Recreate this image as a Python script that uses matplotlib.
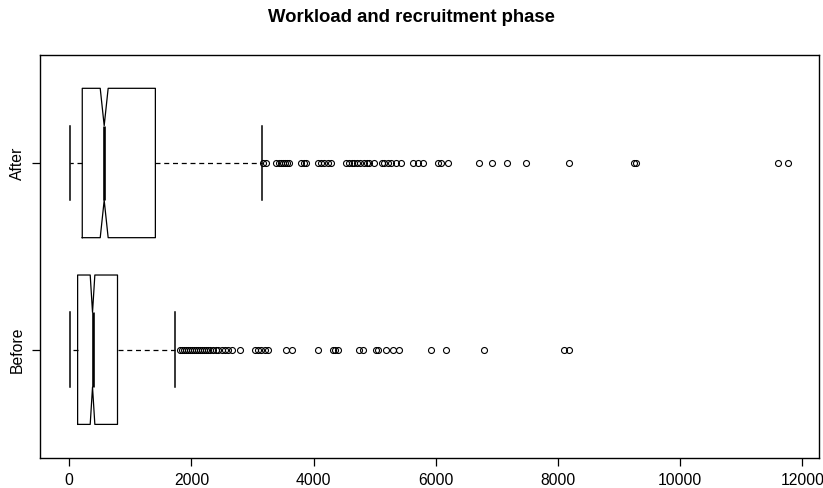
import matplotlib
matplotlib.use("Agg")
import matplotlib.pyplot as plt

plt.rcParams['font.family'] = ['Liberation Sans', 'DejaVu Sans']

# ---- data ----
groups = ["Before", "After"]
q1 = [136, 212]
median = [380, 571]
q3 = [789, 1409]
whisk_lo = [5, 5]
whisk_hi = [1736, 3162]
notch_lo = [342, 506]
notch_hi = [418, 636]

fliers_before = [1812, 1845, 1878, 1910, 1948, 1980, 2013, 2045, 2073, 2105, 2139,
                 2170, 2209, 2240, 2274, 2310, 2356, 2400, 2438, 2493, 2547, 2601,
                 2656, 2792, 3037, 3091, 3146, 3200, 3254, 3554, 3646, 4071, 4316,
                 4354, 4397, 4751, 4805, 5023, 5050, 5186, 5295, 5404, 5922, 6160,
                 6792, 8098, 8180]
fliers_after = [3173, 3227, 3390, 3430, 3461, 3500, 3527, 3560, 3592, 3799, 3837,
                3869, 4071, 4125, 4163, 4234, 4289, 4533, 4577, 4626, 4669, 4713,
                4767, 4822, 4871, 4914, 4996, 5121, 5159, 5213, 5268, 5350, 5431,
                5622, 5714, 5785, 6030, 6085, 6193, 6710, 6928, 7160, 7485, 8180,
                9241, 9279, 11608, 11771]
fliers = [fliers_before, fliers_after]

title = "Workload and recruitment phase"
xticks = [0, 2000, 4000, 6000, 8000, 10000, 12000]

# ---- plot ----
fig = plt.figure(figsize=(8.23, 4.88), dpi=100)
ax = fig.add_axes([40.3 / 823, 30 / 488, (819.3 - 40.3) / 823, (458 - 54.7) / 488])

stats = []
for i, g in enumerate(groups):
    stats.append(dict(label=g, med=median[i], q1=q1[i], q3=q3[i],
                      whislo=whisk_lo[i], whishi=whisk_hi[i],
                      cilo=notch_lo[i], cihi=notch_hi[i], fliers=fliers[i]))

ax.bxp(stats, positions=[1, 2], widths=0.8, vert=False, shownotches=True,
       patch_artist=False,
       boxprops=dict(color='black', linewidth=0.9),
       whiskerprops=dict(color='black', linewidth=0.9, linestyle=(0, (4, 3))),
       capprops=dict(color='black', linewidth=1.1),
       medianprops=dict(color='black', linewidth=1.9, solid_capstyle='butt'),
       flierprops=dict(marker='o', markersize=4.3, markerfacecolor='none',
                       markeredgecolor='black', markeredgewidth=0.8, linestyle='none'))

ax.set_xlim(-475, 12279)
ax.set_ylim(0.42, 2.58)
ax.set_xticks(xticks)
ax.set_xticklabels([str(t) for t in xticks])
ax.set_yticks([1, 2])
ax.set_yticklabels(groups, rotation=90, va='center')

ax.tick_params(axis='both', direction='out', length=6, width=0.9, labelsize=11.3,
               colors='black', pad=5)
for s in ax.spines.values():
    s.set_linewidth(1.0)
    s.set_color('black')

fig.suptitle(title, fontsize=13.3, fontweight='bold', y=1 - 18 / 488, va='center')

fig.savefig("out.png", dpi=100)
